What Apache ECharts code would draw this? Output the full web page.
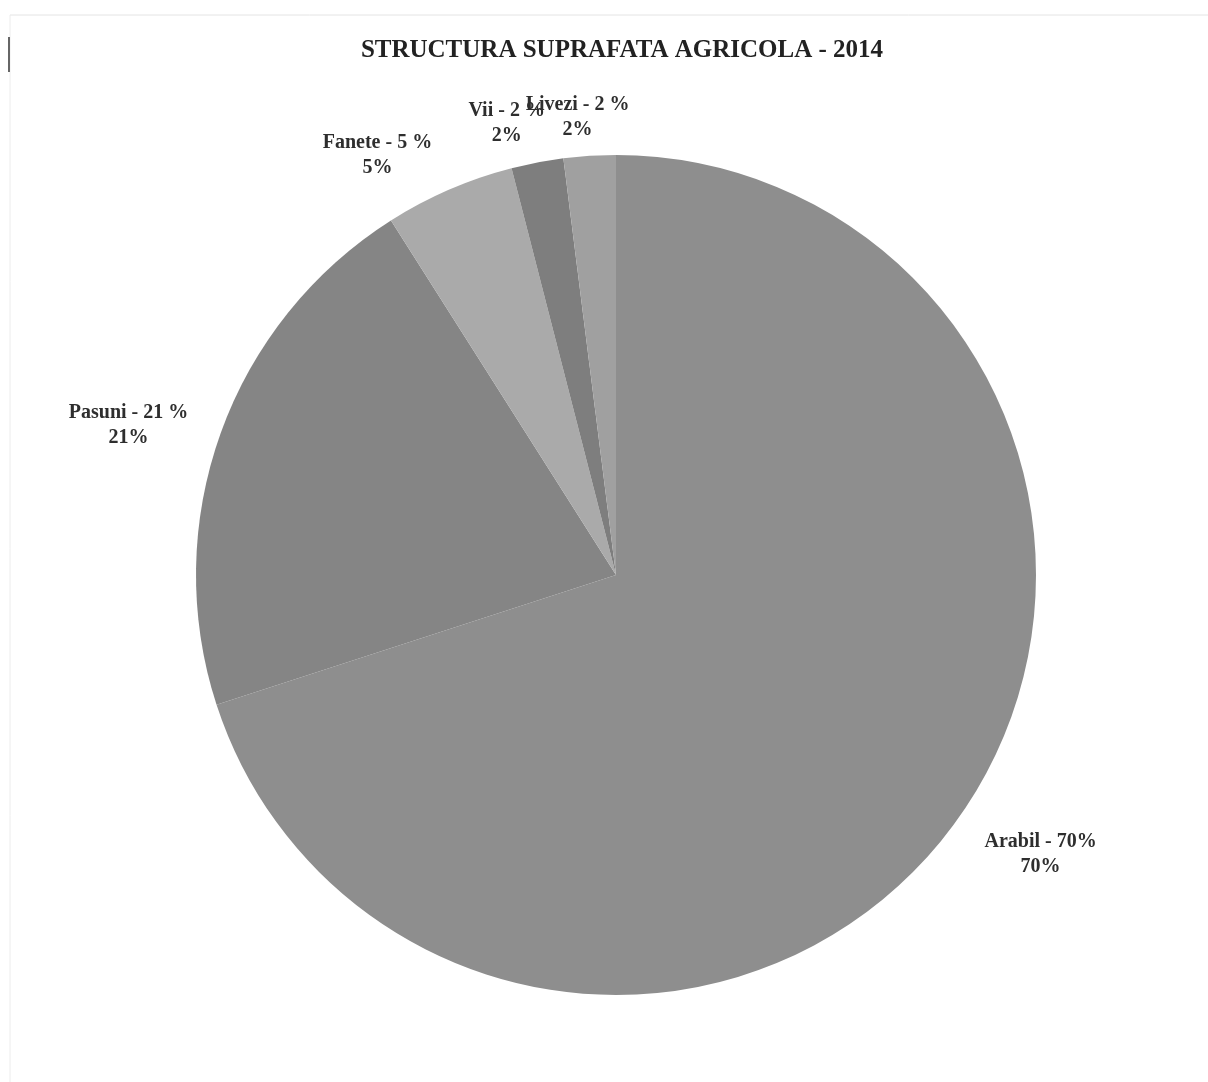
<!DOCTYPE html>
<html>
<head>
<meta charset="utf-8">
<script src="https://cdn.jsdelivr.net/npm/echarts@6/dist/echarts.min.js"></script>
<style>
html,body{margin:0;padding:0;background:#fff;}
#main{width:1208px;height:1082px;}
</style>
</head>
<body>
<div id="main"></div>
<script>
// ---- data ----
const categories = ['Arabil - 70%', 'Pasuni - 21 %', 'Fanete - 5 %', 'Vii - 2 %', 'Livezi - 2 %'];
const values = [70, 21, 5, 2, 2];
const titleText = 'STRUCTURA SUPRAFATA AGRICOLA - 2014';

// ---- styling / layout config ----
const sliceColors = ['#8e8e8e', '#858585', '#aaaaaa', '#7e7e7e', '#a0a0a0'];
const CX = 616, CY = 575, R = 420;
const labelDist = [508, 510, 483, 465, 459];      // label distance from centre
const labelAngleTweak = [-2.7, -2.7, -6.2, -2.8, -1.2]; // deg, relative to slice mid-angle

const total = values.reduce((a, b) => a + b, 0);
const midAngles = [];
let acc = 0;
values.forEach(v => { midAngles.push((acc + v / 2) / total * 360); acc += v; });

const chart = echarts.init(document.getElementById('main'), null, {renderer: 'canvas'});
chart.setOption({
  animation: false,
  backgroundColor: '#ffffff',
  graphic: [
    {type: 'line', shape: {x1: 10, y1: 15, x2: 1208, y2: 15}, style: {stroke: '#e4e4e4', lineWidth: 1}, silent: true},
    {type: 'line', shape: {x1: 10, y1: 15, x2: 10, y2: 1082}, style: {stroke: '#ececec', lineWidth: 1}, silent: true},
    {type: 'line', shape: {x1: 9, y1: 37, x2: 9, y2: 72}, style: {stroke: '#666666', lineWidth: 2}, silent: true}
  ],
  title: {
    text: titleText,
    left: 617,
    textAlign: 'center',
    top: 33,
    textStyle: {
      fontFamily: 'Liberation Serif',
      fontWeight: 'bold',
      fontSize: 25,
      color: '#222222'
    }
  },
  series: [{
    type: 'pie',
    center: [CX, CY],
    radius: R,
    startAngle: 90,
    clockwise: true,
    avoidLabelOverlap: false,
    emphasis: {disabled: true},
    silent: true,
    data: categories.map((c, i) => ({
      name: c,
      value: values[i],
      itemStyle: {color: sliceColors[i]}
    })),
    itemStyle: {borderWidth: 0},
    label: {
      show: true,
      position: 'outside',
      formatter: '{b}\n{c}%',
      fontFamily: 'Liberation Serif',
      fontWeight: 'bold',
      fontSize: 20,
      lineHeight: 25,
      color: '#2e2e2e',
      align: 'center'
    },
    labelLine: {show: false},
    labelLayout: function (p) {
      const i = p.dataIndex;
      const a = (midAngles[i] + labelAngleTweak[i]) * Math.PI / 180;
      return {
        x: CX + Math.sin(a) * labelDist[i],
        y: CY - Math.cos(a) * labelDist[i],
        align: 'center',
        verticalAlign: 'middle',
        hideOverlap: false,
        moveOverlap: null
      };
    }
  }]
});
</script>
</body>
</html>
